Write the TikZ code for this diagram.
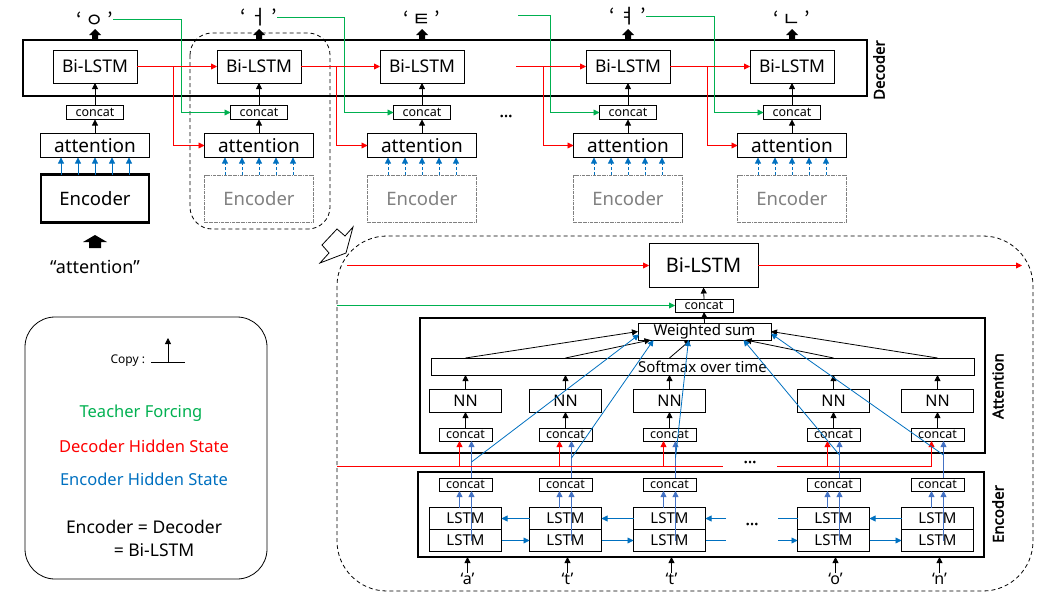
\documentclass[tikz,border=0pt]{standalone}
\usepackage{fontspec}
\setmainfont{Noto Sans}
\newfontfamily\krf{Noto Sans CJK KR}
\newfontfamily\sidef{Noto Sans}[FakeBold=2.2]
\usetikzlibrary{arrows.meta,calc}
\newcommand\fsz[1]{\fontsize{#1}{#1}\selectfont}
\definecolor{hred}{RGB}{255,0,0}
\definecolor{tgreen}{RGB}{0,176,80}
\definecolor{hblue}{RGB}{0,112,192}
\definecolor{hblueb}{RGB}{68,114,196}
\definecolor{egray}{RGB}{128,128,128}
\begin{document}
\begin{tikzpicture}[x=1pt,y=-1pt,
 every node/.style={inner sep=0pt,outer sep=0pt},
 ln/.style={line width=0.8pt},
 arw/.style={-{Triangle[length=6pt,width=6pt]}},
 box/.style={draw,line width=0.8pt,fill=white,align=center},
 bil/.style={box,minimum width=84pt,minimum height=33pt,font=\fsz{17.5}},
 cct/.style={box,minimum width=57pt,minimum height=14pt,font=\fsz{12.5}},
 scct/.style={box,minimum width=53pt,minimum height=13pt,font=\fsz{12.5}},
 attn/.style={box,minimum width=109pt,minimum height=24pt,font=\fsz{19}},
 encg/.style={draw=egray,densely dash dot,line width=0.8pt,minimum width=109pt,minimum height=47pt,text=egray,font=\fsz{18.5}},
 nnb/.style={box,minimum width=72pt,minimum height=23pt,font=\fsz{16}},
 lstm/.style={box,minimum width=72pt,minimum height=22pt,font=\fsz{15}},
 hid/.style={ln,draw=hred,arw},
 tf/.style={ln,draw=tgreen,arw},
 eh/.style={ln,draw=hblue,arw},
 ehb/.style={ln,draw=hblueb,arw},
 blk/.style={ln,arw},
 thk/.style={line width=2.5pt},
 side/.style={font=\sidef\fsz{15},rotate=90},
 lab/.style={font=\krf\fsz{20}}
]
\useasboundingbox (0,0) rectangle (1062,597);

% ---------------- decoder (top) ----------------
\draw[thk] (23,40) rectangle (867,96);
\node[side] (declab) at (879,70) {Decoder};
\draw[ln,dashed,dash pattern=on 4pt off 3pt,rounded corners=22pt] (190,33) rectangle (330,229);

\foreach \i/\x in {1/95,2/259,3/422,4/628,5/792}{
  \node[bil] (bl\i) at (\x,66.5) {Bi-LSTM};
  \node[cct] (cc\i) at (\x,112.5) {concat};
  \node[attn] (at\i) at (\x,145.5) {attention};
  \draw[blk] (at\i.north) -- (cc\i.south);
  \draw[blk] (cc\i.north) -- (bl\i.south);
  \fill (\x-3,40) -- (\x-3,35) -- (\x-6,35) -- (\x,29) -- (\x+6,35) -- (\x+3,35) -- (\x+3,40) -- cycle;
}
\node[draw,line width=2.2pt,minimum width=108pt,minimum height=48pt,font=\fsz{18.5}] (en1) at (95,198.5) {Encoder};
\foreach \d in {-34,-17,0,17,34}
  \draw[eh] ($(en1.north)+(\d,0)$) -- ($(at1.south)+(\d,0)$);
\foreach \i/\x in {2/259,3/422,4/628,5/792}{
  \node[encg] (en\i) at (\x,198.5) {Encoder};
  \foreach \d in {-34,-17,0,17,34}
    \draw[eh,densely dashed] ($(en\i.north)+(\d,0)$) -- ($(at\i.south)+(\d,0)$);
}

% output labels
\node[lab] (lab1) at (95,19.5) {‘\,ㅇ\,’};
\node[lab] (lab2) at (259,17.5) {‘\,ㅓ\,’};
\node[lab] (lab3) at (422,18.5) {‘\,ㅌ\,’};
\node[lab] (lab4) at (628,16.5) {‘\,ㅕ\,’};
\node[lab] (lab5) at (792,18.5) {‘\,ㄴ\,’};

% teacher forcing (green)
\coordinate (g1) at (181,112.5);
\coordinate (g2) at (344,112.5);
\coordinate (g3s) at (518,15.5);
\coordinate (g3) at (550,112.5);
\coordinate (g4) at (714,112.5);
\draw[tf] (lab1.east) -| (g1) -- (cc2.west);
\draw[tf] (lab2.east) -| (g2) -- (cc3.west);
\draw[tf] (g3s) -| (g3) -- (cc4.west);
\draw[tf] (lab4.east) -| (g4) -- (cc5.west);

% decoder hidden state (red)
\coordinate (r1) at (173,66.5);
\coordinate (r2) at (336,66.5);
\coordinate (r3s) at (516,66.5);
\coordinate (r3) at (543,66.5);
\coordinate (r4) at (707,66.5);
\draw[hid] (bl1.east) -- (bl2.west);
\draw[hid] (r1) |- (at2.west);
\draw[hid] (bl2.east) -- (bl3.west);
\draw[hid] (r2) |- (at3.west);
\draw[hid] (r3s) -- (bl4.west);
\draw[hid] (r3) |- (at4.west);
\draw[hid] (bl4.east) -- (bl5.west);
\draw[hid] (r4) |- (at5.west);
\node[font=\sidef\fsz{16}] (dots1) at (506,116) {...};

% below encoder 1
\fill (89,248) -- (89,242) -- (83,242) -- (95,235) -- (107,242) -- (101,242) -- (101,248) -- cycle;
\node[font=\fsz{18}] (attq) at (95,267) {“attention”};

% callout arrow
\draw[ln,fill=white,line join=miter] (320,263) -- (346,253) -- (353,227) -- (345,236) -- (337,229) -- (322,245) -- (329,253) -- cycle;

% ---------------- legend ----------------
\draw[ln,rounded corners=30pt] (25,317) rectangle (267,579);
\node[font=\fsz{12},anchor=east] (copyt) at (145,361) {Copy :};
\coordinate (cpa) at (151,362.5);
\coordinate (cpb) at (185,362.5);
\coordinate (cpc) at (168,362.5);
\coordinate (cpd) at (168,338);
\draw[ln] (cpa) -- (cpb);
\draw[blk] (cpc) -- (cpd);
\node[font=\fsz{16.5},text=tgreen] (lg1) at (141,413) {Teacher Forcing};
\node[font=\fsz{16.5},text=hred] (lg2) at (144,446) {Decoder Hidden State};
\node[font=\fsz{16.5},text=hblue] (lg3) at (144,479) {Encoder Hidden State};
\node[font=\fsz{17.5}] (lg4) at (144,527) {Encoder = Decoder};
\node[font=\fsz{17.5}] (lg5) at (154,550) {= Bi-LSTM};

% ---------------- detail ----------------
\draw[ln,dash pattern=on 4pt off 3pt,rounded corners=50pt] (337,236) rectangle (1033,591);
\node[box,minimum width=109pt,minimum height=44pt,font=\fsz{20}] (BL) at (703.5,265.5) {Bi-LSTM};
\node[box,minimum width=58pt,minimum height=13pt,font=\fsz{12.5}] (bcc) at (704,305.5) {concat};
\coordinate (rin) at (347,265.5);
\coordinate (rout) at (1022,265.5);
\coordinate (gin) at (337,305.5);
\draw[hid] (rin) -- (BL.west);
\draw[hid] (BL.east) -- (rout);
\draw[tf] (gin) -- (bcc.west);
\draw[blk] (bcc.north) -- (BL.south);

\draw[thk] (420,318) rectangle (985,453);
\node[side] (attlab) at (998,386) {Attention};
\draw[thk] (418,472) rectangle (984,557);
\node[side] (enclab) at (998,514) {Encoder};
\coordinate (eb) at (0,557);

\node[box,minimum width=133pt,minimum height=17pt,font=\fsz{15}] (ws) at (704.5,331.5) {Weighted sum};
\node[box,minimum width=543pt,minimum height=17pt,font=\fsz{15}] (sm) at (702.5,366.5) {Softmax over time};
\draw[blk] (ws.north) -- (bcc.south);

\foreach \i/\x/\c in {1/465.5/a,2/565.5/t,3/669.5/t,4/833.5/o,5/937.5/n}{
  \node[nnb] (nn\i) at (\x,400.5) {NN};
  \node[scct] (ac\i) at (\x,434.5) {concat};
  \node[scct] (ec\i) at (\x,484.5) {concat};
  \node[lstm] (lu\i) at (\x,518.5) {LSTM};
  \node[lstm] (ll\i) at (\x,540.5) {LSTM};
  \node[font=\fsz{16}] (in\i) at (\x+2,579) {‘\c’};
  \draw[blk] (in\i.north) -- (in\i.north |- eb);
  \draw[blk] (ac\i.north) -- (nn\i.south);
  \draw[blk] (nn\i.north) -- (nn\i.north |- sm.south);
  \draw[hid] ($(ac\i.south)+(-6,25.5)$) -- ($(ac\i.south)+(-6,0)$);
  \draw[ehb] ($(ec\i.north)+(6,0)$) -- ($(ac\i.south)+(6,0)$);
  \draw[ehb] ($(lu\i.north)+(-6,0)$) -- ($(ec\i.south)+(-6,0)$);
  \draw[ehb] ($(ll\i.center)+(6,0)$) -- ($(ec\i.south)+(6,0)$);
}

% softmax -> weighted sum
\draw[blk] (sm.north -| nn1) -- (ws.west);
\draw[blk] (sm.north -| nn2) -- ($(ws.south)+(-54,0)$);
\draw[blk] (sm.north -| nn3) -- ($(ws.south)+(-14,0)$);
\draw[blk] (sm.north -| nn4) -- ($(ws.south)+(41,0)$);
\draw[blk] (sm.north -| nn5) -- (ws.east);

% encoder states -> weighted sum
\draw[eh] ($(ac1.south)+(6,21)$) -- ($(ws.west)+(1,3)$);
\draw[eh] ($(ac2.south)+(6,17)$) -- ($(ws.south)+(-51,0)$);
\draw[eh] ($(ac3.south)+(6,17)$) -- ($(ws.south)+(-16,0)$);
\draw[eh] ($(ac4.south)+(6,14)$) -- ($(ws.south)+(39,0)$);
\draw[eh] ($(ac5.south)+(6,14)$) -- ($(ws.east)+(0,2)$);

% red decoder state line
\coordinate (ra) at (337,466.5);
\coordinate (rb) at (723,466.5);
\coordinate (rc) at (777,466.5);
\coordinate (rd) at (931.5,466.5);
\draw[ln,draw=hred] (ra) -- (rb);
\draw[ln,draw=hred] (rc) -- (rd);
\node[font=\sidef\fsz{16}] (dots2) at (750,462) {...};

% LSTM recurrences
\coordinate (ua) at (726,518.5);
\coordinate (ub) at (778,518.5);
\coordinate (la) at (726,540.5);
\coordinate (lb) at (778,540.5);
\draw[eh] (lu2.west) -- (lu1.east);
\draw[eh] (lu3.west) -- (lu2.east);
\draw[eh] (ua) -- (lu3.east);
\draw[ln,draw=hblue] (lu4.west) -- (ub);
\draw[eh] (lu5.west) -- (lu4.east);
\draw[eh] (ll1.east) -- (ll2.west);
\draw[eh] (ll2.east) -- (ll3.west);
\draw[ln,draw=hblue] (ll3.east) -- (la);
\draw[eh] (lb) -- (ll4.west);
\draw[eh] (ll4.east) -- (ll5.west);
\node[font=\sidef\fsz{16}] (dots3) at (752,524) {...};
\end{tikzpicture}
\end{document}
